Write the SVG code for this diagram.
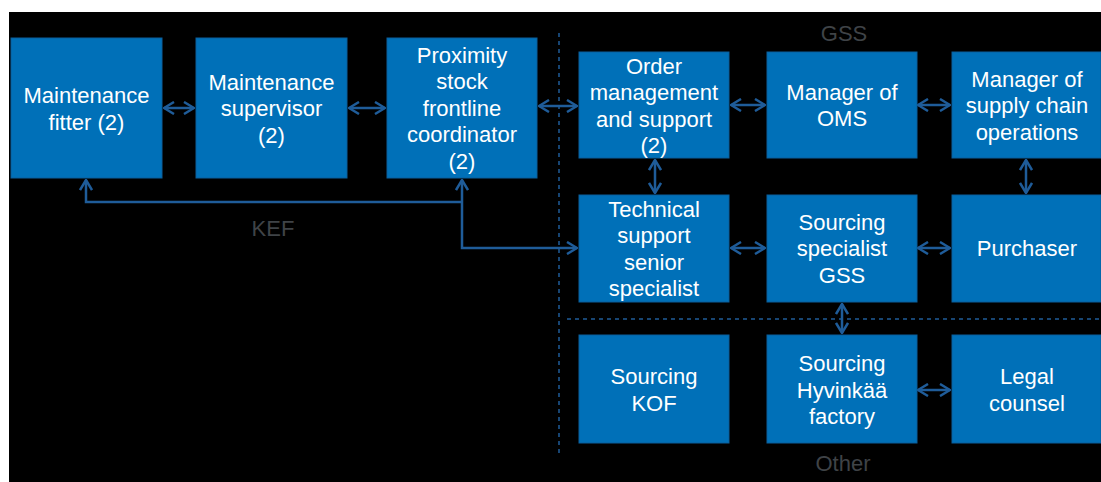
<svg xmlns="http://www.w3.org/2000/svg" width="1101" height="482" viewBox="0 0 1101 482">
  <style>
    .box { fill: #0070b8; stroke: #0a5f9c; stroke-width: 1; }
    .lbl { fill: #ffffff; font-family: "Liberation Sans", Arial, sans-serif; font-size: 22px; text-anchor: middle; }
    .grp { fill: #3f4347; font-family: "Liberation Sans", Arial, sans-serif; font-size: 22px; text-anchor: middle; }
    .link { fill: none; stroke: #1f5c99; stroke-width: 2.5; }
    .sep { fill: none; stroke: #1f5c99; stroke-width: 1.5; stroke-dasharray: 4 4; }
  </style>
  <defs>
    <marker id="head" viewBox="0 0 12 14" refX="11" refY="7" markerWidth="12" markerHeight="14" markerUnits="userSpaceOnUse" orient="auto-start-reverse">
      <path d="M1,1 L11,7 L1,13" fill="none" stroke="#1f5c99" stroke-width="2.5"/>
    </marker>
  </defs>

  <rect x="0" y="0" width="1101" height="482" fill="#ffffff"/>
  <rect x="9" y="12" width="1092" height="470" fill="#000000"/>

  <!-- region separators -->
  <g id="separators">
    <line class="sep" x1="559" y1="33" x2="559" y2="454"/>
    <line class="sep" x1="567" y1="319" x2="1101" y2="319"/>
    <text class="grp" x="844" y="41">GSS</text>
    <text class="grp" x="273" y="236">KEF</text>
    <text class="grp" x="843" y="471">Other</text>
  </g>

  <!-- connectors -->
  <g id="connectors">
    <line class="link" x1="164" y1="108" x2="194" y2="108" marker-start="url(#head)" marker-end="url(#head)"/>
    <line class="link" x1="349" y1="108" x2="385" y2="108" marker-start="url(#head)" marker-end="url(#head)"/>
    <line class="link" x1="539" y1="106" x2="577" y2="106" marker-start="url(#head)" marker-end="url(#head)"/>
    <line class="link" x1="731" y1="105" x2="765" y2="105" marker-start="url(#head)" marker-end="url(#head)"/>
    <line class="link" x1="918" y1="105" x2="950" y2="105" marker-start="url(#head)" marker-end="url(#head)"/>
    <line class="link" x1="655" y1="160" x2="655" y2="193" marker-start="url(#head)" marker-end="url(#head)"/>
    <line class="link" x1="1026" y1="160" x2="1026" y2="193" marker-start="url(#head)" marker-end="url(#head)"/>
    <line class="link" x1="731" y1="248" x2="765" y2="248" marker-start="url(#head)" marker-end="url(#head)"/>
    <line class="link" x1="918" y1="248" x2="950" y2="248" marker-start="url(#head)" marker-end="url(#head)"/>
    <line class="link" x1="842" y1="304" x2="842" y2="333" marker-start="url(#head)" marker-end="url(#head)"/>
    <line class="link" x1="918" y1="390" x2="950" y2="390" marker-start="url(#head)" marker-end="url(#head)"/>
    <path class="link" d="M462,180 V248 H577" marker-start="url(#head)" marker-end="url(#head)"/>
    <path class="link" d="M462,202 H86 V180" marker-end="url(#head)"/>
  </g>

  <!-- KEF nodes -->
  <g id="maintenance-fitter">
    <rect class="box" x="11" y="38" width="151" height="140"/>
    <text class="lbl" x="86.5" y="103">Maintenance</text>
    <text class="lbl" x="86.5" y="129.5">fitter (2)</text>
  </g>
  <g id="maintenance-supervisor">
    <rect class="box" x="196" y="38" width="151" height="140"/>
    <text class="lbl" x="271.5" y="89.5">Maintenance</text>
    <text class="lbl" x="271.5" y="116">supervisor</text>
    <text class="lbl" x="271.5" y="142.5">(2)</text>
  </g>
  <g id="proximity-stock">
    <rect class="box" x="387" y="38" width="150" height="140"/>
    <text class="lbl" x="462" y="62.5">Proximity</text>
    <text class="lbl" x="462" y="89">stock</text>
    <text class="lbl" x="462" y="115.5">frontline</text>
    <text class="lbl" x="462" y="142">coordinator</text>
    <text class="lbl" x="462" y="168.5">(2)</text>
  </g>

  <!-- GSS nodes -->
  <g id="order-management">
    <rect class="box" x="579" y="52" width="150" height="106"/>
    <text class="lbl" x="654" y="73.5">Order</text>
    <text class="lbl" x="654" y="100">management</text>
    <text class="lbl" x="654" y="126.5">and support</text>
    <text class="lbl" x="654" y="153">(2)</text>
  </g>
  <g id="manager-oms">
    <rect class="box" x="767" y="52" width="150" height="106"/>
    <text class="lbl" x="842" y="99.5">Manager of</text>
    <text class="lbl" x="842" y="126">OMS</text>
  </g>
  <g id="manager-supply-chain">
    <rect class="box" x="952" y="52" width="149" height="106"/>
    <text class="lbl" x="1027" y="86.5">Manager of</text>
    <text class="lbl" x="1027" y="113">supply chain</text>
    <text class="lbl" x="1027" y="139.5">operations</text>
  </g>
  <g id="technical-support">
    <rect class="box" x="579" y="195" width="150" height="107"/>
    <text class="lbl" x="654" y="216.5">Technical</text>
    <text class="lbl" x="654" y="243">support</text>
    <text class="lbl" x="654" y="269.5">senior</text>
    <text class="lbl" x="654" y="296">specialist</text>
  </g>
  <g id="sourcing-specialist">
    <rect class="box" x="767" y="195" width="150" height="107"/>
    <text class="lbl" x="842" y="229.5">Sourcing</text>
    <text class="lbl" x="842" y="256">specialist</text>
    <text class="lbl" x="842" y="282.5">GSS</text>
  </g>
  <g id="purchaser">
    <rect class="box" x="952" y="195" width="149" height="107"/>
    <text class="lbl" x="1027" y="256">Purchaser</text>
  </g>

  <!-- Other nodes -->
  <g id="sourcing-kof">
    <rect class="box" x="579" y="335" width="150" height="108"/>
    <text class="lbl" x="654" y="384">Sourcing</text>
    <text class="lbl" x="654" y="410.5">KOF</text>
  </g>
  <g id="sourcing-hyvinkaa">
    <rect class="box" x="767" y="335" width="150" height="108"/>
    <text class="lbl" x="842" y="371">Sourcing</text>
    <text class="lbl" x="842" y="397.5">Hyvinkää</text>
    <text class="lbl" x="842" y="424">factory</text>
  </g>
  <g id="legal-counsel">
    <rect class="box" x="952" y="335" width="149" height="108"/>
    <text class="lbl" x="1027" y="384">Legal</text>
    <text class="lbl" x="1027" y="410.5">counsel</text>
  </g>
</svg>
